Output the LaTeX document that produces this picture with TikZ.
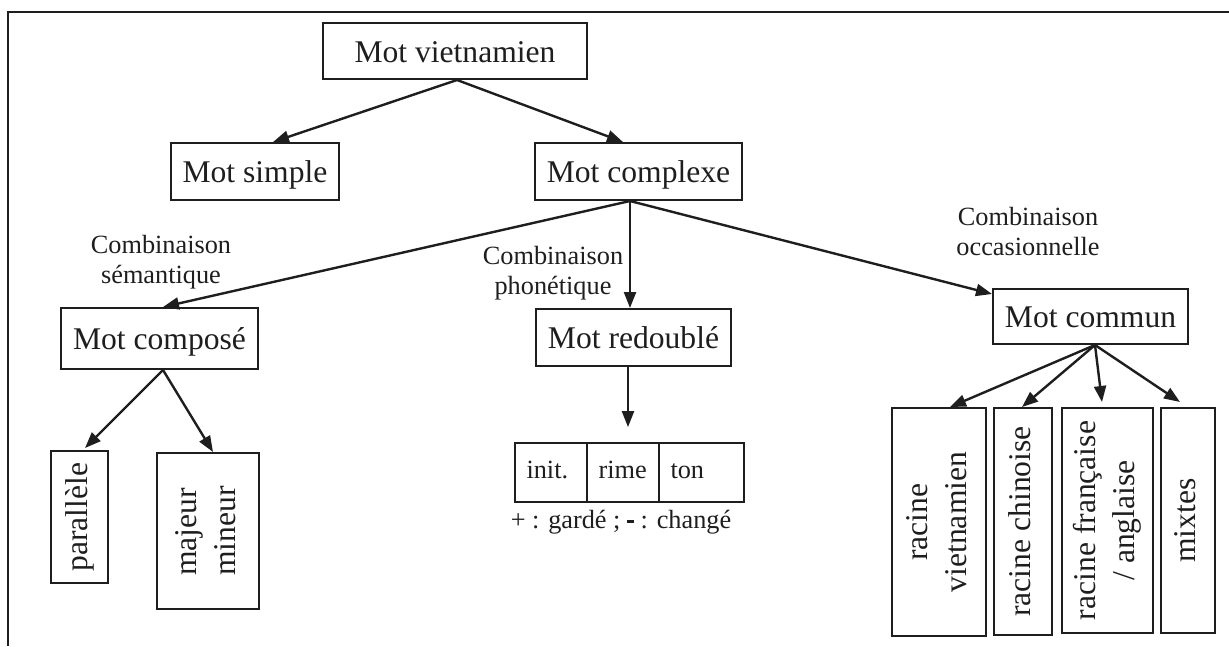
\documentclass[tikz,border=0pt]{standalone}
\usepackage{fontspec}
\setmainfont{Liberation Serif}
\usepackage{graphicx}
\usetikzlibrary{arrows.meta}
\definecolor{ink}{HTML}{1E1E1E}
\newcommand\mainsize{\fontsize{31.6pt}{39pt}\selectfont}
\newcommand\smallsize{\fontsize{26.3pt}{30pt}\selectfont}
% upright text turned a quarter turn, read from bottom to top
\newcommand\vtext[2][c]{\rotatebox{90}{\begin{tabular}{@{}#1@{}}#2\end{tabular}}}
% short heavy dash used in the legend
\newcommand\heavydash{\rule[5pt]{7pt}{2.8pt}}
\tikzset{
  box/.style={draw=ink, line width=2pt, inner sep=0pt, text=ink, font=\mainsize,
    text height=22pt, text depth=0pt},
  vbox/.style={draw=ink, line width=2pt, inner sep=0pt, text=ink, font=\mainsize},
  cell/.style={draw=ink, line width=1.8pt, inner xsep=11.5pt, inner ysep=0pt,
    minimum height=59pt, text height=12pt, text depth=0pt, font=\smallsize,
    align=left, text=ink},
  lbl/.style={text=ink, font=\smallsize, align=center, inner sep=0pt},
  arr/.style={draw=ink, line width=2.4pt, -{Triangle[length=16pt,width=12pt]}},
}
\begin{document}
\begin{tikzpicture}[x=1pt,y=-1pt]
\useasboundingbox (0,0) rectangle (1229,646);
% open frame
\draw[ink, line width=2pt] (1229,12) -- (8,12) -- (8,646);

% main word boxes
\node[box, minimum width=264pt, minimum height=56pt] (mv)  at (455,51)      {Mot vietnamien};
\node[box, minimum width=168pt, minimum height=57pt] (ms)  at (255,171.5)   {Mot simple};
\node[box, minimum width=207pt, minimum height=57pt] (mcx) at (638.5,171.5) {Mot complexe};
\node[box, minimum width=197pt, minimum height=61pt] (mcp) at (159.5,338.5) {Mot composé};
\node[box, minimum width=195pt, minimum height=57pt] (mr)  at (633.5,337.5) {Mot redoublé};
\node[box, minimum width=195pt, minimum height=55pt] (mcn) at (1090.5,316.5) {Mot commun};

% upright boxes
\node[vbox, minimum width=57pt,  minimum height=132pt] (par) at (79.5,517)  {\vtext{parallèle}};
\node[vbox, minimum width=102pt, minimum height=156pt] (mm)  at (208,531)   {\vtext[l]{majeur\\mineur}};
\node[vbox, minimum width=94pt,  minimum height=228pt] (rv)  at (939,522)   {\vtext{racine\\vietnamien}};
\node[vbox, minimum width=58pt,  minimum height=227pt] (rc)  at (1023,521.5) {\vtext{racine chinoise}};
\node[vbox, minimum width=91pt,  minimum height=225pt] (rf)  at (1107.5,520.5) {\vtext{racine française\\/ anglaise}};
\node[vbox, minimum width=54pt,  minimum height=225pt] (mx)  at (1188,520.5) {\vtext{mixtes}};

% syllable table
\node[cell, text width=49pt] (init) at (551,472.5)   {init.};
\node[cell, text width=49pt] (rime) at (623,472.5)   {rime};
\node[cell, text width=62pt] (ton)  at (701.5,472.5) {ton};
\node[lbl, anchor=base] (leg) at (621,528) {+ : gardé ; \heavydash{} : changé};

% branch labels
\node[lbl] (lsem) at (161,262)  {Combinaison\\sémantique};
\node[lbl] (lpho) at (553,273)  {Combinaison\\phonétique};
\node[lbl] (locc) at (1028,231) {Combinaison\\occasionnelle};

% connectors
\draw[arr] ([xshift=2pt]mv.south) -- ([xshift=18pt]ms.north);
\draw[arr] ([xshift=2pt]mv.south) -- ([xshift=-15.5pt]mcx.north);
\draw[arr] ([xshift=-8.5pt]mcx.south) -- ([xshift=3.5pt]mcp.north);
\draw[arr] ([xshift=-8.5pt]mcx.south) -- ([xshift=-3.5pt]mr.north);
\draw[arr] ([xshift=-8.5pt]mcx.south) -- ([yshift=-6pt]mcn.north west);
\draw[arr] ([xshift=3.5pt]mcp.south) -- ([xshift=5.5pt,yshift=2pt]par.north);
\draw[arr] ([xshift=3.5pt]mcp.south) -- ([xshift=5pt]mm.north);
\draw[arr, shorten >=15pt] ([xshift=-5.5pt]mr.south) -- ([xshift=-5.5pt]mr.south |- rime.north);
\draw[arr] ([xshift=4.5pt]mcn.south) -- ([xshift=11pt]rv.north);
\draw[arr] ([xshift=4.5pt]mcn.south) -- ([xshift=-1pt]rc.north);
\draw[arr] ([xshift=4.5pt]mcn.south) -- ([xshift=-5.5pt,yshift=5pt]rf.north);
\draw[arr] ([xshift=4.5pt]mcn.south) -- ([xshift=-8pt,yshift=5pt]mx.north);
\end{tikzpicture}
\end{document}
